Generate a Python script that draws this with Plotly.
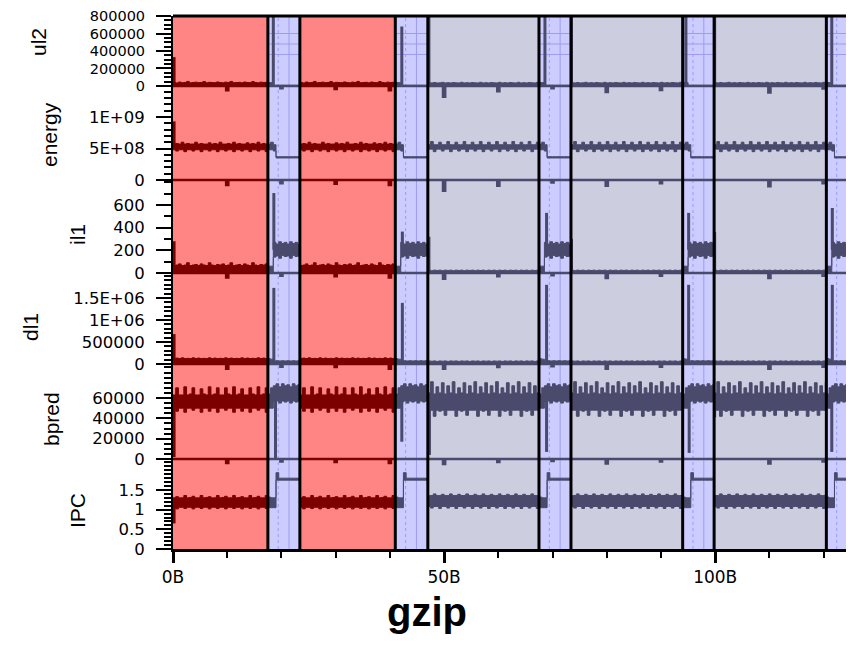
import plotly.graph_objects as go

# ---------------- regions (x in billions of instructions) ----------------
region_start = [0.0, 17.5, 23.4, 41.0, 47.0, 67.5, 73.4, 94.0, 99.8, 120.5]
region_end   = [17.5, 23.4, 41.0, 47.0, 67.5, 73.4, 94.0, 99.8, 120.5, 126.0]
region_kind  = ['red', 'blue', 'red', 'blue', 'grey', 'blue', 'grey', 'blue', 'grey', 'blue']

x_tick_vals = [0, 50, 100]
x_tick_text = ['0B', '50B', '100B']
x_minor_vals = [10, 20, 30, 40, 60, 70, 80, 90, 110, 120]
STEP = 0.5  # sample spacing of the min/max envelopes (B)

# faint guide lines inside the blue phases (offset from phase start, B) and ul2 grid levels
blue_guide_offsets = [1.9, 3.9]
blue_guide_dash = ['dot', 'solid']
ul2_grid_levels = [600000, 480000, 360000]

# ---------------- min / max envelopes per phase (one value every 0.5B) ----------------
# ul2
ul2_red_hi = [40000, 35000, 45000, 38000, 40000, 52000, 36000, 40000, 44000, 38000, 40000, 50000,
              36000, 42000, 40000, 38000, 46000, 40000, 36000, 44000, 40000, 52000, 38000, 40000,
              42000, 36000, 45000, 40000, 38000, 50000, 40000, 36000, 44000, 40000, 42000]
ul2_red_lo = [5000, 0, 3000, 0, 5000, 0, 2000, 0, 5000, 0, 3000, 0, 5000, 0, 2000, 0, 5000, 0,
              3000, 0, 5000, 0, 2000, 0, 5000, 0, 3000, 0, 5000, 0, 2000, 0, 5000, 0, 3000]
ul2_blue_hi = [40000, 38000, 8000, 8000, 8000, 8000, 8000, 8000, 8000, 8000, 8000, 8000]
ul2_blue_lo = [0, 0, -3000, -3000, -3000, -3000, -3000, -3000, -3000, -3000, -3000, -3000]
ul2_grey_hi = [38000, 35000, 40000, 35000, 36000, 42000, 35000, 38000, 35000, 40000, 36000, 35000,
               42000, 35000, 38000, 35000, 40000, 36000, 35000, 42000, 35000, 38000, 35000, 40000,
               36000, 35000, 42000, 35000, 38000, 35000, 40000, 36000, 35000, 42000, 35000, 38000,
               35000, 40000, 36000, 35000, 42000, 35000]
ul2_grey_lo = [-5000, -3000, -5000, -2000, -5000, -3000, -5000, -2000, -5000, -3000, -5000, -2000,
               -5000, -3000, -5000, -2000, -5000, -3000, -5000, -2000, -5000, -3000, -5000, -2000,
               -5000, -3000, -5000, -2000, -5000, -3000, -5000, -2000, -5000, -3000, -5000, -2000,
               -5000, -3000, -5000, -2000, -5000, -3000]

# energy
energy_red_hi = [5.7e8, 5.8e8, 5.7e8, 6.0e8, 5.7e8, 5.8e8, 5.7e8, 5.7e8, 6.0e8, 5.7e8, 5.8e8, 5.7e8,
                 5.7e8, 5.9e8, 5.7e8, 5.8e8, 5.7e8, 6.0e8, 5.7e8, 5.7e8, 5.8e8, 5.7e8, 6.0e8, 5.7e8,
                 5.8e8, 5.7e8, 5.7e8, 5.9e8, 5.7e8, 5.8e8, 5.7e8, 6.0e8, 5.7e8, 5.8e8, 5.7e8]
energy_red_lo = [4.8e8, 4.6e8, 4.8e8, 4.8e8, 4.5e8, 4.8e8, 4.8e8, 4.6e8, 4.8e8, 4.8e8, 4.5e8, 4.8e8,
                 4.8e8, 4.6e8, 4.8e8, 4.8e8, 4.5e8, 4.8e8, 4.8e8, 4.6e8, 4.8e8, 4.8e8, 4.5e8, 4.8e8,
                 4.8e8, 4.6e8, 4.8e8, 4.8e8, 4.5e8, 4.8e8, 4.8e8, 4.6e8, 4.8e8, 4.8e8, 4.5e8]
energy_blue_hi = [5.7e8, 6.0e8, 5.6e8, 3.7e8, 3.7e8, 3.7e8, 3.7e8, 3.7e8, 3.7e8, 3.7e8, 3.7e8, 3.7e8]
energy_blue_lo = [4.8e8, 4.8e8, 4.6e8, 3.5e8, 3.5e8, 3.5e8, 3.5e8, 3.5e8, 3.5e8, 3.5e8, 3.5e8, 3.5e8]
energy_grey_hi = [5.6e8, 6.1e8, 5.6e8, 5.6e8, 6.0e8, 5.6e8, 5.6e8, 6.1e8, 5.6e8, 5.6e8, 6.0e8, 5.6e8,
                  5.6e8, 6.1e8, 5.6e8, 5.6e8, 6.0e8, 5.6e8, 5.6e8, 6.1e8, 5.6e8, 5.6e8, 6.0e8, 5.6e8,
                  5.6e8, 6.1e8, 5.6e8, 5.6e8, 6.0e8, 5.6e8, 5.6e8, 6.1e8, 5.6e8, 5.6e8, 6.0e8, 5.6e8,
                  5.6e8, 6.1e8, 5.6e8, 5.6e8, 6.0e8, 5.6e8]
energy_grey_lo = [4.9e8, 4.9e8, 4.5e8, 4.9e8, 4.9e8, 4.6e8, 4.9e8, 4.9e8, 4.5e8, 4.9e8, 4.9e8, 4.6e8,
                  4.9e8, 4.9e8, 4.5e8, 4.9e8, 4.9e8, 4.6e8, 4.9e8, 4.9e8, 4.5e8, 4.9e8, 4.9e8, 4.6e8,
                  4.9e8, 4.9e8, 4.5e8, 4.9e8, 4.9e8, 4.6e8, 4.9e8, 4.9e8, 4.5e8, 4.9e8, 4.9e8, 4.6e8,
                  4.9e8, 4.9e8, 4.5e8, 4.9e8, 4.9e8, 4.6e8]

# il1
il1_red_hi = [65, 70, 80, 65, 70, 90, 65, 70, 75, 65, 80, 70, 65, 90, 70, 65, 75, 70, 80, 65, 70,
              90, 65, 70, 75, 65, 80, 70, 65, 90, 70, 65, 75, 70, 80]
il1_red_lo = [0, 5, 0, 0, 5, 0, 0, 5, 0, 0, 5, 0, 0, 5, 0, 0, 5, 0, 0, 5, 0, 0, 5, 0, 0, 5, 0, 0,
              5, 0, 0, 5, 0, 0, 5]
il1_blue_hi = [60, 60, 270, 255, 275, 260, 270, 255, 275, 260, 270, 255]
il1_blue_lo = [0, 0, 140, 150, 130, 155, 145, 150, 130, 155, 145, 150]
il1_grey_hi = [25, 20, 25, 22, 25, 20, 25, 22, 25, 20, 25, 22, 25, 20, 25, 22, 25, 20, 25, 22, 25,
               20, 25, 22, 25, 20, 25, 22, 25, 20, 25, 22, 25, 20, 25, 22, 25, 20, 25, 22, 25, 20]
il1_grey_lo = [0, 0, -3, 0, 0, -3, 0, 0, -3, 0, 0, -3, 0, 0, -3, 0, 0, -3, 0, 0, -3, 0, 0, -3, 0,
               0, -3, 0, 0, -3, 0, 0, -3, 0, 0, -3, 0, 0, -3, 0, 0, -3]

# dl1
dl1_red_hi = [125000, 135000, 125000, 140000, 125000, 130000, 125000, 140000, 125000, 135000, 125000, 130000,
              125000, 140000, 125000, 135000, 125000, 130000, 125000, 140000, 125000, 135000, 125000, 130000,
              125000, 140000, 125000, 135000, 125000, 130000, 125000, 140000, 125000, 135000, 125000]
dl1_red_lo = [0, 10000, 0, 0, 10000, 0, 0, 10000, 0, 0, 10000, 0, 0, 10000, 0, 0, 10000, 0, 0,
              10000, 0, 0, 10000, 0, 0, 10000, 0, 0, 10000, 0, 0, 10000, 0, 0, 10000]
dl1_blue_hi = [120000, 110000, 70000, 75000, 70000, 75000, 70000, 75000, 70000, 75000, 70000, 75000]
dl1_blue_lo = [10000, 10000, 25000, 25000, 25000, 25000, 25000, 25000, 25000, 25000, 25000, 25000]
dl1_grey_hi = [70000, 65000, 70000, 60000, 70000, 65000, 70000, 60000, 70000, 65000, 70000, 60000,
               70000, 65000, 70000, 60000, 70000, 65000, 70000, 60000, 70000, 65000, 70000, 60000,
               70000, 65000, 70000, 60000, 70000, 65000, 70000, 60000, 70000, 65000, 70000, 60000,
               70000, 65000, 70000, 60000, 70000, 65000]
dl1_grey_lo = [0, 5000, 0, 5000, 0, 5000, 0, 5000, 0, 5000, 0, 5000, 0, 5000, 0, 5000, 0, 5000, 0,
               5000, 0, 5000, 0, 5000, 0, 5000, 0, 5000, 0, 5000, 0, 5000, 0, 5000, 0, 5000, 0, 5000,
               0, 5000, 0, 5000]

# bpred
bpred_red_hi = [63000, 70000, 63000, 63000, 71000, 63000, 64000, 70000, 63000, 63000, 69000, 64000,
                63000, 71000, 63000, 64000, 70000, 63000, 63000, 70000, 64000, 63000, 71000, 63000,
                64000, 69000, 63000, 63000, 70000, 64000, 63000, 71000, 63000, 64000, 70000]
bpred_red_lo = [50000, 47000, 50000, 50000, 46000, 50000, 50000, 48000, 50000, 50000, 46000, 50000,
                50000, 47000, 50000, 50000, 46000, 50000, 50000, 48000, 50000, 50000, 46000, 50000,
                50000, 47000, 50000, 50000, 46000, 50000, 50000, 48000, 50000, 50000, 46000]
bpred_blue_hi = [64000, 70000, 72000, 74000, 71000, 74000, 72000, 73000, 71000, 74000, 72000, 73000]
bpred_blue_lo = [50000, 50000, 56000, 57000, 55000, 57000, 56000, 57000, 55000, 57000, 56000, 57000]
bpred_grey_hi = [65000, 76000, 64000, 71000, 65000, 75000, 64000, 72000, 65000, 76000, 64000, 70000,
                 65000, 75000, 64000, 72000, 65000, 76000, 64000, 71000, 65000, 75000, 64000, 72000,
                 65000, 76000, 64000, 70000, 65000, 75000, 64000, 72000, 65000, 76000, 64000, 71000,
                 65000, 75000, 64000, 72000, 65000, 76000]
bpred_grey_lo = [48000, 48000, 42000, 48000, 47000, 48000, 43000, 48000, 48000, 48000, 42000, 48000,
                 47000, 48000, 43000, 48000, 48000, 48000, 42000, 48000, 47000, 48000, 43000, 48000,
                 48000, 48000, 42000, 48000, 47000, 48000, 43000, 48000, 48000, 48000, 42000, 48000,
                 47000, 48000, 43000, 48000, 48000, 48000]

# IPC
ipc_red_hi = [1.30, 1.33, 1.30, 1.30, 1.36, 1.30, 1.31, 1.34, 1.30, 1.30, 1.36, 1.30, 1.31, 1.33,
              1.30, 1.30, 1.36, 1.30, 1.31, 1.34, 1.30, 1.30, 1.36, 1.30, 1.31, 1.33, 1.30, 1.30,
              1.36, 1.30, 1.31, 1.34, 1.30, 1.30, 1.36]
ipc_red_lo = [1.06, 1.02, 1.06, 1.06, 1.03, 1.06, 1.06, 1.02, 1.06, 1.06, 1.03, 1.06, 1.06, 1.02,
              1.06, 1.06, 1.03, 1.06, 1.06, 1.02, 1.06, 1.06, 1.03, 1.06, 1.06, 1.02, 1.06, 1.06,
              1.03, 1.06, 1.06, 1.02, 1.06, 1.06, 1.03]
ipc_blue_hi = [1.32, 1.30, 1.30, 1.94, 1.80, 1.80, 1.80, 1.80, 1.80, 1.80, 1.80, 1.80]
ipc_blue_lo = [1.05, 1.05, 1.05, 1.75, 1.75, 1.75, 1.75, 1.75, 1.75, 1.75, 1.75, 1.75]
ipc_grey_hi = [1.36, 1.36, 1.40, 1.36, 1.36, 1.39, 1.36, 1.36, 1.40, 1.36, 1.36, 1.39, 1.36, 1.36,
               1.40, 1.36, 1.36, 1.39, 1.36, 1.36, 1.40, 1.36, 1.36, 1.39, 1.36, 1.36, 1.40, 1.36,
               1.36, 1.39, 1.36, 1.36, 1.40, 1.36, 1.36, 1.39, 1.36, 1.36, 1.40, 1.36, 1.36, 1.39]
ipc_grey_lo = [1.08, 1.04, 1.08, 1.08, 1.03, 1.08, 1.08, 1.04, 1.08, 1.08, 1.03, 1.08, 1.08, 1.04,
               1.08, 1.08, 1.03, 1.08, 1.08, 1.04, 1.08, 1.08, 1.03, 1.08, 1.08, 1.04, 1.08, 1.08,
               1.03, 1.08, 1.08, 1.04, 1.08, 1.08, 1.03, 1.08, 1.08, 1.04, 1.08, 1.08, 1.03, 1.08]

# ---------------- isolated spikes (x, value) ----------------
ul2_spikes = [(0.2, 330000), (18.5, 830000), (42.2, 680000), (47.2, 830000), (68.6, 830000),
              (73.5, 830000), (94.6, 830000), (99.9, 830000), (121.5, 830000)]
energy_spikes = [(0.2, 9.3e8)]
il1_spikes = [(0.2, 280), (18.6, 705), (42.3, 365), (47.2, 320), (68.9, 530), (73.5, 300),
              (95.1, 530), (99.9, 360), (121.6, 573)]
dl1_spikes = [(0.2, 680000), (18.6, 1730000), (42.3, 1390000), (68.9, 1800000),
              (95.1, 1800000), (121.6, 1800000)]
bpred_spikes = [(0.2, 2000), (18.9, 0), (42.2, 17000), (47.3, 4000), (68.9, 7000),
                (95.2, 6000), (99.9, 41000), (121.5, 7000)]
ipc_spikes = [(0.2, 0.65)]

# ---------------- baseline notches every 10B ----------------
mark_x = [10, 20, 30, 40, 50, 60, 70, 80, 90, 100, 110, 120]
ul2_dip = [-50000, -25000, -35000, -50000, -130000, -60000, -25000, -70000, -45000, -120000, -75000, -30000]
energy_dip = [-8e7, -5e7, -6e7, -8e7, -1.9e8, -9e7, -4e7, -9e7, -5e7, -1.2e8, -1e8, -5e7]
il1_dip = [-40, -25, -30, -40, -50, -30, -20, -45, -25, -50, -45, -25]
dl1_dip = [-110000, -60000, -70000, -110000, -120000, -70000, -50000, -110000, -60000, -110000, -110000, -60000]
bpred_dip = [-4000, -2500, -3000, -4000, -5000, -3000, -2000, -4500, -2500, -5000, -4500, -2500]

RED_REGION = '#ff8484'
BLUE_REGION = '#ccccff'
GREY_REGION = '#cdcde0'
GUIDE_COLOR = '#9c9cf4'
RED_LINE = '#7c0000'
SLATE_LINE = '#4a4a6c'

# page layout (the page body has an 8px margin, so the figure is laid out 8px up/left)
PLOT_LEFT, PLOT_TOP, PLOT_BOTTOM = 173, 16, 549     # on-screen pixel positions of the plot frame
W_PX = 681.0
H_PX = float(PLOT_BOTTOM - PLOT_TOP)


def kind_at(x):
    for a, b, k in zip(region_start, region_end, region_kind):
        if a <= x < b:
            return k
    return region_kind[-1]


def envelope_at(tpl, x):
    for a, b, k in zip(region_start, region_end, region_kind):
        if a <= x < b:
            lo, hi = tpl[k]
            i = min(int((x - a) / STEP), len(lo) - 1)
            return lo[i], hi[i]
    return 0, 0


fig = go.Figure()


def add_envelope(tpl, yname):
    for a, b, k in zip(region_start, region_end, region_kind):
        lo, hi = tpl[k]
        xs, los, his = [], [], []
        for i in range(len(lo)):
            x = a + STEP * i
            if x >= b - 1e-9:
                break
            xs.append(x)
            los.append(lo[i])
            his.append(hi[i])
        xs.append(b)
        los.append(los[-1])
        his.append(his[-1])
        col = RED_LINE if k == 'red' else SLATE_LINE
        fig.add_trace(go.Scatter(x=xs, y=los, mode='lines', xaxis='x', yaxis=yname,
                                 line=dict(color=col, width=1, shape='hv'), hoverinfo='skip'))
        fig.add_trace(go.Scatter(x=xs, y=his, mode='lines', xaxis='x', yaxis=yname, fill='tonexty',
                                 fillcolor=col, line=dict(color=col, width=1, shape='hv'),
                                 hoverinfo='skip'))


def add_spikes(tpl, spikes, yname):
    groups = {'red': ([], []), 'other': ([], [])}
    for sx, sy in spikes:
        lo, hi = envelope_at(tpl, sx)
        base = (lo + hi) / 2.0
        key = 'red' if kind_at(sx) == 'red' else 'other'
        groups[key][0].extend([sx, sx, None])
        groups[key][1].extend([base, sy, None])
    for key, col in (('red', RED_LINE), ('other', SLATE_LINE)):
        if groups[key][0]:
            fig.add_trace(go.Scatter(x=groups[key][0], y=groups[key][1], mode='lines', xaxis='x',
                                     yaxis=yname, line=dict(color=col, width=3), hoverinfo='skip'))


def add_baseline(dips, yname):
    xs, ys = [0.0], [0.0]
    for m, d in zip(mark_x, dips):
        xs += [m - 0.2, m + 0.2]
        ys += [d, 0.0]
    for a, b, k in zip(region_start, region_end, region_kind):
        px, py = [a], [0.0]
        for xi, yi in zip(xs, ys):
            if a < xi < b:
                px.append(xi)
                py.append(yi)
        px.append(b)
        py.append(0.0)
        col = RED_LINE if k == 'red' else SLATE_LINE
        fig.add_trace(go.Scatter(x=px, y=py, mode='lines', xaxis='x', yaxis=yname,
                                 line=dict(color=col, width=2.5, shape='hv'), hoverinfo='skip'))


panels = [
    dict(name='ul2', env={'red': (ul2_red_lo, ul2_red_hi), 'blue': (ul2_blue_lo, ul2_blue_hi),
                          'grey': (ul2_grey_lo, ul2_grey_hi)},
         sp=ul2_spikes, dip=ul2_dip, rng=[-137000, 800000], dom=[0.8462, 1.0],
         tv=[0, 200000, 400000, 600000, 800000], tt=['0', '200000', '400000', '600000', '800000'],
         minor=[i * 50000 for i in range(0, 17)], fs=14.5, tx=38, ty=42),
    dict(name='energy', env={'red': (energy_red_lo, energy_red_hi), 'blue': (energy_blue_lo, energy_blue_hi),
                             'grey': (energy_grey_lo, energy_grey_hi)},
         sp=energy_spikes, dip=energy_dip, rng=[-1.9e8, 1.492e9], dom=[0.6698, 0.8687],
         tv=[0, 5e8, 1e9], tt=['0', '5E+08', '1E+09'], minor=[i * 1e8 for i in range(0, 15)],
         fs=16.5, tx=50, ty=135),
    dict(name='il1', env={'red': (il1_red_lo, il1_red_hi), 'blue': (il1_blue_lo, il1_blue_hi),
                          'grey': (il1_grey_lo, il1_grey_hi)},
         sp=il1_spikes, dip=il1_dip, rng=[-62, 820], dom=[0.5047, 0.6923],
         tv=[0, 200, 400, 600], tt=['0', '200', '400', '600'], minor=[i * 100 for i in range(0, 9)],
         fs=16.5, tx=77, ty=234),
    dict(name='dl1', env={'red': (dl1_red_lo, dl1_red_hi), 'blue': (dl1_blue_lo, dl1_blue_hi),
                          'grey': (dl1_grey_lo, dl1_grey_hi)},
         sp=dl1_spikes, dip=dl1_dip, rng=[-136000, 2068000], dom=[0.3358, 0.5178],
         tv=[0, 500000, 1000000, 1500000], tt=['0', '500000', '1E+06', '1.5E+06'],
         minor=[i * 100000 for i in range(0, 21)], fs=16.5, tx=30, ty=327),
    dict(name='bpred', env={'red': (bpred_red_lo, bpred_red_hi), 'blue': (bpred_blue_lo, bpred_blue_hi),
                            'grey': (bpred_grey_lo, bpred_grey_hi)},
         sp=bpred_spikes, dip=bpred_dip, rng=[-6885, 93440], dom=[0.1557, 0.3471],
         tv=[0, 20000, 40000, 60000], tt=['0', '20000', '40000', '60000'],
         minor=[i * 5000 for i in range(0, 19)], fs=16.5, tx=51, ty=419),
    dict(name='IPC', env={'red': (ipc_red_lo, ipc_red_hi), 'blue': (ipc_blue_lo, ipc_blue_hi),
                          'grey': (ipc_grey_lo, ipc_grey_hi)},
         sp=ipc_spikes, dip=None, rng=[0, 2.288], dom=[0.0, 0.1689],
         tv=[0, 0.5, 1, 1.5], tt=['0', '0.5', '1', '1.5'],
         minor=[round(i * 0.1, 2) for i in range(0, 23)], fs=16.5, tx=77, ty=510),
]

annotations = []
for idx, p in enumerate(panels):
    yname = 'y' if idx == 0 else f'y{idx + 1}'
    lname = 'yaxis' if idx == 0 else f'yaxis{idx + 1}'
    if p['dip'] is not None:
        add_baseline(p['dip'], yname)
    add_envelope(p['env'], yname)
    add_spikes(p['env'], p['sp'], yname)
    fig.layout[lname] = dict(
        domain=p['dom'], range=p['rng'], anchor='x', showgrid=False, zeroline=False, automargin=False,
        showline=True, linecolor='black', linewidth=2,
        tickmode='array', tickvals=p['tv'], ticktext=p['tt'], ticks='outside', ticklen=15,
        tickwidth=2, tickcolor='black', ticklabelstandoff=8,
        tickfont=dict(family='DejaVu Sans', size=p['fs'], color='black'),
        minor=dict(tickmode='array', tickvals=p['minor'], ticks='outside', ticklen=7, tickwidth=2,
                   tickcolor='black', showgrid=False),
    )
    annotations.append(dict(text=p['name'], xref='paper', yref='paper',
                            x=(p['tx'] - PLOT_LEFT) / W_PX, y=(PLOT_BOTTOM - p['ty']) / H_PX,
                            showarrow=False, textangle=-90, xanchor='center', yanchor='middle',
                            font=dict(family='Liberation Sans, Arial', size=21, color='black')))

annotations.append(dict(text='<b>gzip</b>', xref='paper', yref='paper', x=(427 - PLOT_LEFT) / W_PX,
                        y=(PLOT_BOTTOM - 612) / H_PX, showarrow=False, xanchor='center', yanchor='middle',
                        font=dict(family='Liberation Sans, Arial', size=40, color='black')))

fig.update_layout(
    xaxis=dict(range=[0, 125.6], anchor='y6', domain=[0, 1], showgrid=False, zeroline=False,
               automargin=False, showline=True, linecolor='black', linewidth=3,
               tickmode='array', tickvals=x_tick_vals, ticktext=x_tick_text, ticks='outside', ticklen=11,
               tickwidth=3, tickcolor='black',
               tickfont=dict(family='DejaVu Sans', size=17, color='black'),
               minor=dict(tickmode='array', tickvals=x_minor_vals,
                          ticks='outside', ticklen=6, tickwidth=2, tickcolor='black', showgrid=False)),
)

shapes = []
fills = {'red': RED_REGION, 'blue': BLUE_REGION, 'grey': GREY_REGION}
for a, b, k in zip(region_start, region_end, region_kind):
    shapes.append(dict(type='rect', xref='x', yref='paper', x0=a, x1=b, y0=0, y1=1,
                       fillcolor=fills[k], line=dict(width=0), layer='below'))
# faint guide lines inside the blue phases
for a, b, k in zip(region_start, region_end, region_kind):
    if k != 'blue':
        continue
    for off, dash in zip(blue_guide_offsets, blue_guide_dash):
        if a + off < b:
            shapes.append(dict(type='line', xref='x', yref='paper', x0=a + off, x1=a + off, y0=0, y1=1,
                               line=dict(color=GUIDE_COLOR, width=1, dash=dash), layer='below'))
    for lev in ul2_grid_levels:
        shapes.append(dict(type='line', xref='x', yref='y', x0=a, x1=b, y0=lev, y1=lev,
                           line=dict(color=GUIDE_COLOR, width=1), layer='below'))
for a in region_start[1:]:
    shapes.append(dict(type='line', xref='x', yref='paper', x0=a, x1=a, y0=0, y1=1,
                       line=dict(color='black', width=3), layer='above'))
shapes.append(dict(type='line', xref='paper', yref='paper', x0=0, x1=1, y0=1, y1=1,
                   line=dict(color='black', width=3), layer='above'))

fig.update_layout(
    width=854, height=650,
    margin=dict(l=PLOT_LEFT - 8, r=8, t=PLOT_TOP - 8, b=650 - (PLOT_BOTTOM - 8), autoexpand=False),
    paper_bgcolor='white', plot_bgcolor='rgba(0,0,0,0)',
    shapes=shapes, showlegend=False, annotations=annotations,
)

fig.write_html('out.html')
